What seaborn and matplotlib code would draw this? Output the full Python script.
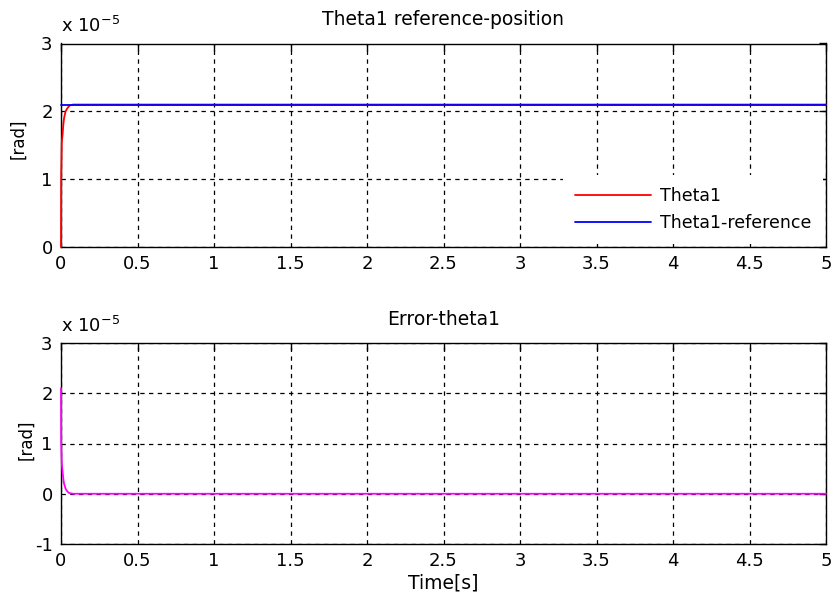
import numpy as np
import pandas as pd
import matplotlib
matplotlib.use("Agg")
import matplotlib.pyplot as plt
from matplotlib.ticker import FuncFormatter
import seaborn as sns

# Simulation samples (time in seconds, angles in rad)
time_s = [0.0, 0.001, 0.005, 0.01, 0.015, 0.02, 0.03, 0.04, 0.05, 0.06, 0.08, 0.1, 5.0]
theta1 = [0.0, 1.0e-5, 1.55e-5, 1.65e-5, 1.8e-5, 1.9e-5, 2.0e-5, 2.04e-5, 2.07e-5,
          2.09e-5, 2.1e-5, 2.1e-5, 2.1e-5]
theta1_ref = [2.1e-5] * len(time_s)
error_theta1 = [2.1e-5, 1.05e-5, 0.6e-5, 0.45e-5, 0.3e-5, 0.2e-5, 0.1e-5, 0.05e-5,
                0.02e-5, 0.01e-5, 0.0, 0.0, 0.0]

x_ticks = [0, 0.5, 1, 1.5, 2, 2.5, 3, 3.5, 4, 4.5, 5]
top_yticks = [0, 1e-5, 2e-5, 3e-5]
bottom_yticks = [-1e-5, 0, 1e-5, 2e-5, 3e-5]

sns.set_style("white")
plt.rcParams["font.family"] = ["DejaVu Sans"]
plt.rcParams["text.color"] = "black"
plt.rcParams["axes.labelcolor"] = "black"

df = pd.DataFrame({"t": time_s, "theta1": theta1, "ref": theta1_ref, "err": error_theta1})

fig = plt.figure(figsize=(8.34, 6.1), dpi=100)
W, H = 834.0, 610.0
ax1 = fig.add_axes([61 / W, 1 - 247 / H, 765 / W, 203.5 / H])
ax2 = fig.add_axes([61 / W, 1 - 544 / H, 765 / W, 201 / H])

sns.lineplot(data=df, x="t", y="theta1", ax=ax1, color="#ff0000", lw=1.3,
             label="Theta1", zorder=3, clip_on=False)
sns.lineplot(data=df, x="t", y="ref", ax=ax1, color="#0000ff", lw=1.3,
             label="Theta1-reference", zorder=3, clip_on=False)
sns.lineplot(data=df, x="t", y="err", ax=ax2, color="#ff00ff", lw=1.3, zorder=3,
             clip_on=False)

scaled = FuncFormatter(lambda v, p: f"{v / 1e-5:g}")
tick_font = 13

for ax, yt, title, lab_xy in ((ax1, top_yticks, "Theta1 reference-position", (-0.044, 0.53)),
                              (ax2, bottom_yticks, "Error-theta1", (-0.034, 0.52))):
    ax.set_xlim(0, 5)
    ax.set_ylim(yt[0], yt[-1])
    ax.set_xticks(x_ticks)
    ax.set_xticklabels([f"{v:g}" for v in x_ticks])
    ax.set_yticks(yt)
    ax.yaxis.set_major_formatter(scaled)
    ax.grid(True, color="black", linestyle=(0, (3.5, 3.5)), linewidth=0.9)
    for s in ax.spines.values():
        s.set_color("black")
        s.set_linewidth(1.0)
    ax.tick_params(direction="in", length=5, width=1, top=True, right=True,
                   labelsize=tick_font, pad=6, colors="black")
    ax.set_title(title, fontsize=13.5, pad=13, color="black")
    ax.set_ylabel("[rad]", fontsize=12)
    ax.yaxis.set_label_coords(*lab_xy)
    ax.set_xlabel("")
    ax.text(0.0, 1.035, r"x $10^{-5}$", transform=ax.transAxes, fontsize=13,
            ha="left", va="bottom", color="black")

ax2.set_xlabel("Time[s]", fontsize=13.5, labelpad=2)

leg = ax1.legend(loc="lower right", bbox_to_anchor=(1.0, 0.0), fontsize=12.5,
                 handlelength=4.4, handletextpad=0.5, frameon=True, fancybox=False,
                 framealpha=1, edgecolor="white", facecolor="white",
                 borderaxespad=0.15, labelspacing=0.55, borderpad=0.7)
leg.get_frame().set_linewidth(0)
for txt in leg.get_texts():
    txt.set_color("black")

fig.savefig("out.png", dpi=100)
